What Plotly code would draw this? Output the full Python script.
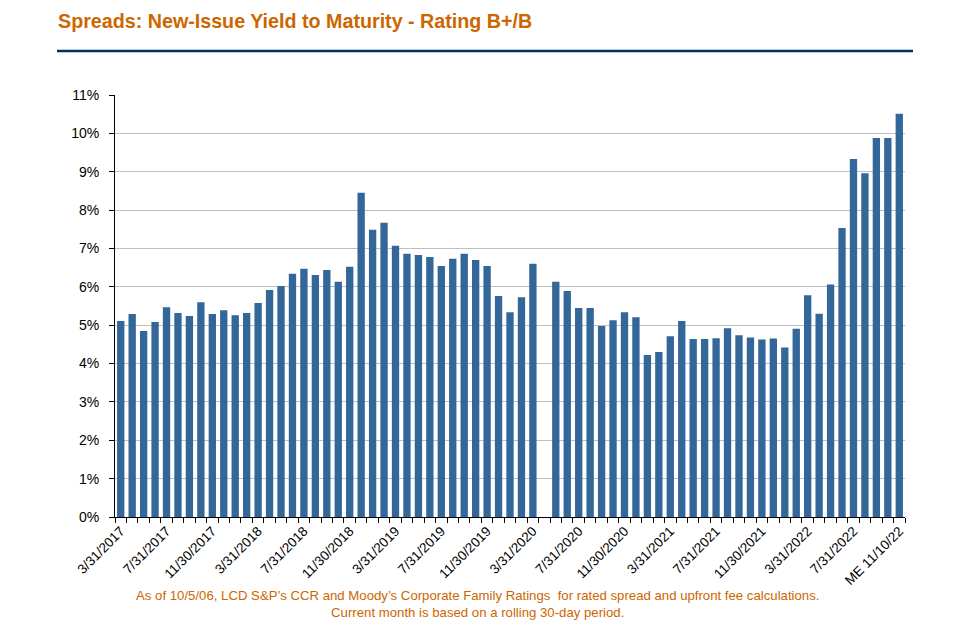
import plotly.graph_objects as go

categories = [
    "3/31/2017", "4/30/2017", "5/31/2017", "6/30/2017", "7/31/2017", "8/31/2017",
    "9/30/2017", "10/31/2017", "11/30/2017", "12/31/2017", "1/31/2018", "2/28/2018",
    "3/31/2018", "4/30/2018", "5/31/2018", "6/30/2018", "7/31/2018", "8/31/2018",
    "9/30/2018", "10/31/2018", "11/30/2018", "12/31/2018", "1/31/2019", "2/28/2019",
    "3/31/2019", "4/30/2019", "5/31/2019", "6/30/2019", "7/31/2019", "8/31/2019",
    "9/30/2019", "10/31/2019", "11/30/2019", "12/31/2019", "1/31/2020", "2/29/2020",
    "3/31/2020", "4/30/2020", "5/31/2020", "6/30/2020", "7/31/2020", "8/31/2020",
    "9/30/2020", "10/31/2020", "11/30/2020", "12/31/2020", "1/31/2021", "2/28/2021",
    "3/31/2021", "4/30/2021", "5/31/2021", "6/30/2021", "7/31/2021", "8/31/2021",
    "9/30/2021", "10/31/2021", "11/30/2021", "12/31/2021", "1/31/2022", "2/28/2022",
    "3/31/2022", "4/30/2022", "5/31/2022", "6/30/2022", "7/31/2022", "8/31/2022",
    "9/30/2022", "10/31/2022", "ME 11/10/22",
]

# New-issue yield to maturity, percent (None = no new issues that month)
yield_pct = [
    5.11, 5.29, 4.85, 5.08, 5.47, 5.32, 5.24, 5.60, 5.29, 5.39, 5.26, 5.32,
    5.58, 5.92, 6.02, 6.34, 6.47, 6.31, 6.44, 6.13, 6.52, 8.45, 7.49, 7.67,
    7.07, 6.86, 6.83, 6.78, 6.54, 6.73, 6.86, 6.70, 6.54, 5.76, 5.34, 5.73,
    6.60, None, 6.13, 5.89, 5.45, 5.45, 4.98, 5.13, 5.34, 5.21, 4.22, 4.30,
    4.71, 5.11, 4.64, 4.64, 4.66, 4.92, 4.74, 4.68, 4.63, 4.65, 4.42, 4.91,
    5.78, 5.30, 6.06, 7.53, 9.33, 8.96, 9.88, 9.88, 10.51,
]

# every fourth category is labelled
tick_text = [c if i % 4 == 0 else "" for i, c in enumerate(categories)]

title_text = "Spreads: New-Issue Yield to Maturity - Rating B+/B"
footnote_text = ("As of 10/5/06, LCD S&P\u2019s CCR and Moody\u2019s Corporate Family Ratings  "
                 "for rated spread and upfront fee calculations.<br>"
                 "Current month is based on a rolling 30-day period.")

ORANGE = "#CC6600"
NAVY = "#00305E"
BAR = "#336699"

# page is 961x644; the html body adds an 8px margin, so the figure is 8px smaller
OFF = 8
W, H = 961 - OFF, 644 - OFF
L, R, T, B = 115 - OFF, 56, 95 - OFF, 127
PW, PH = W - L - R, H - T - B


def px(x):  # page x -> paper
    return (x - OFF - L) / PW


def py(y):  # page y -> paper
    return (H - B - (y - OFF)) / PH


fig = go.Figure(
    go.Bar(x=categories, y=yield_pct, marker=dict(color=BAR, line=dict(width=0)))
)

fig.update_layout(
    width=W, height=H,
    margin=dict(l=L, r=R, t=T, b=B, autoexpand=False),
    plot_bgcolor="white", paper_bgcolor="white",
    showlegend=False,
    bargap=0.36,
    font=dict(family="Liberation Sans, Arial, sans-serif", size=13, color="black"),
)

fig.update_xaxes(
    type="category",
    tickmode="array", tickvals=categories, ticktext=tick_text,
    tickson="boundaries",
    ticks="outside", ticklen=5, tickcolor="black", tickwidth=1,
    tickangle=-45,
    tickfont=dict(size=13.5),
    showline=True, linecolor="black", linewidth=1,
    showgrid=False,
    range=[-0.5, len(categories) - 0.5],
)

fig.update_yaxes(
    range=[0, 11], dtick=1, ticksuffix="%",
    ticks="outside", ticklen=5, tickcolor="black", tickwidth=1,
    ticklabelstandoff=7,
    tickfont=dict(size=14),
    showline=True, linecolor="black", linewidth=1,
    showgrid=True, gridcolor="#BFBFBF", gridwidth=1,
    zeroline=False,
)

# title
fig.add_annotation(
    text=f"<b>{title_text}</b>",
    xref="paper", yref="paper", x=px(56), y=py(21),
    xanchor="left", yanchor="middle", showarrow=False,
    font=dict(family="Liberation Sans, Arial, sans-serif", size=19.7, color=ORANGE),
)

# rule under title
fig.add_shape(
    type="line", xref="paper", yref="paper",
    x0=px(57), x1=px(913), y0=py(51), y1=py(51),
    line=dict(color=NAVY, width=2.5),
)

# footnote
fig.add_annotation(
    text=footnote_text,
    xref="paper", yref="paper", x=px(477), y=py(603.5),
    xanchor="center", yanchor="middle", showarrow=False, align="center",
    font=dict(family="Liberation Sans, Arial, sans-serif", size=13.2, color=ORANGE),
)

fig.write_html("out.html")
